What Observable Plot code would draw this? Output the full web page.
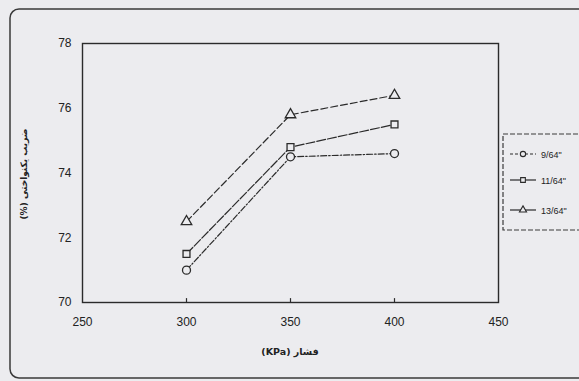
<!DOCTYPE html>
<html>
<head>
<meta charset="utf-8">
<script src="https://cdn.jsdelivr.net/npm/d3@7"></script>
<script src="https://cdn.jsdelivr.net/npm/@observablehq/plot@0.6"></script>
<style>
  html, body { margin: 0; padding: 0; background: #ececef; }
  #chart { width: 579px; height: 381px; overflow: hidden; }
</style>
</head>
<body>
<div id="chart"></div>
<script>
// ---- data ----
const pressures = [300, 350, 400];                 // KPa
const nozzles = ['9/64"', '11/64"', '13/64"'];
const cu9  = [71.0, 74.5, 74.6];                   // 9/64"
const cu11 = [71.5, 74.8, 75.5];                   // 11/64"
const cu13 = [72.5, 75.8, 76.4];                   // 13/64"
const xTicks = [250, 300, 350, 400, 450];
const yTicks = [70, 72, 74, 76, 78];
const xMinorTicks = [300, 350, 400];
const xLabel = "فشار (KPa)";
const yLabel = "ضریب یکنواختی (%)";

const seriesValues = [cu9, cu11, cu13];
const symbols = ["circle", "square", "triangle"];
const dashes = ["6,2,1.5,2", "9,2", "7,3"];
const radii = [4, 3.9, 3.9];

const rows = [];
nozzles.forEach((n, i) => pressures.forEach((p, j) => rows.push({nozzle: n, p, cu: seriesValues[i][j]})));

const bg = "#ececef";
const ink = "#2b2b2b";
const marks = [
  Plot.frame({stroke: ink, strokeWidth: 1.4}),
  Plot.ruleX(xMinorTicks, {x: d => d, y1: 70, y2: 70.12, stroke: ink, strokeWidth: 1.2}),
  Plot.axisX({ticks: xTicks, tickSize: 0, tickPadding: 15, label: null, fontSize: 12, fill: "#222"}),
  Plot.axisY({ticks: yTicks, tickSize: 0, tickPadding: 11, label: null, fontSize: 12, fill: "#222"})
];
nozzles.forEach((n, i) => {
  const d = rows.filter(r => r.nozzle === n);
  marks.push(Plot.line(d, {x: "p", y: "cu", stroke: ink, strokeWidth: 1.2, strokeDasharray: dashes[i]}));
  marks.push(Plot.dot(d, {x: "p", y: "cu", symbol: () => symbols[i], r: radii[i], stroke: ink, strokeWidth: 1.3, fill: bg}));
});

const chart = Plot.plot({
  width: 579,
  height: 381,
  marginLeft: 82,
  marginRight: 81,
  marginTop: 43,
  marginBottom: 79,
  style: {background: bg, fontFamily: "'Liberation Sans', Arial, sans-serif", color: "#222"},
  x: {domain: [250, 450]},
  y: {domain: [70, 78]},
  symbol: {domain: symbols, range: symbols},
  marks
});
document.getElementById("chart").append(chart);

// ---- decorations: outer frame, axis titles, legend ----
const svg = d3.select(chart);
svg.insert("rect", ":first-child")
  .attr("x", 10).attr("y", 9).attr("width", 620).attr("height", 369)
  .attr("rx", 9).attr("fill", "none").attr("stroke", "#3a3a3a").attr("stroke-width", 1.5);

svg.append("text")
  .attr("x", 290).attr("y", 355)
  .attr("text-anchor", "middle").attr("direction", "rtl")
  .attr("font-size", 9.5).attr("font-weight", "bold").attr("fill", "#222")
  .attr("font-family", "'DejaVu Sans', sans-serif")
  .text(xLabel);

svg.append("text")
  .attr("transform", "translate(27,174) rotate(-90)")
  .attr("text-anchor", "middle").attr("direction", "rtl")
  .attr("font-size", 9).attr("font-weight", "bold").attr("fill", "#222")
  .attr("font-family", "'DejaVu Sans', sans-serif")
  .text(yLabel);

// legend
const lg = svg.append("g");
lg.append("rect").attr("x", 503).attr("y", 134).attr("width", 100).attr("height", 96)
  .attr("fill", bg).attr("stroke", "#3a3a3a").attr("stroke-width", 1.2).attr("stroke-dasharray", "5,2");
const legendY = [154, 180, 210];
const symGen = {circle: d3.symbolCircle, square: d3.symbolSquare, triangle: d3.symbolTriangle};
nozzles.forEach((n, i) => {
  const y = legendY[i];
  lg.append("line").attr("x1", 510).attr("x2", 536).attr("y1", y).attr("y2", y)
    .attr("stroke", ink).attr("stroke-width", 1.2).attr("stroke-dasharray", i === 0 ? "3,2" : null);
  lg.append("path").attr("transform", `translate(523,${y})`)
    .attr("d", d3.symbol(symGen[symbols[i]], 22)())
    .attr("fill", bg).attr("stroke", ink).attr("stroke-width", 1.1);
  lg.append("text").attr("x", 541).attr("y", y + 3.5)
    .attr("text-anchor", "start")
    .attr("font-size", 9).attr("fill", "#222")
    .attr("font-family", "'Liberation Sans', Arial, sans-serif")
    .text(n);
});
</script>
</body>
</html>
